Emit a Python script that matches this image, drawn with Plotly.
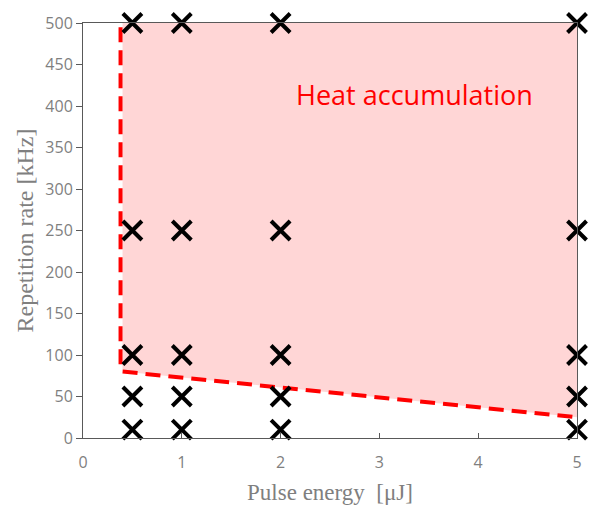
import plotly.graph_objects as go

energies = [0.5, 1, 2, 5]
rates = [10, 50, 100, 250, 500]

region_x = [0.4, 0.4, 5, 5]
region_y = [80, 500, 500, 25]

boundary_x = [0.38, 0.38, 0.4, 5]
boundary_y = [495, 85, 80, 25]

px = [e for e in energies for r in rates]
py = [r for e in energies for r in rates]

fig = go.Figure()
fig.add_trace(go.Scatter(x=region_x + [region_x[0]], y=region_y + [region_y[0]], fill="toself",
                         fillcolor="rgba(255,0,0,0.16)", line=dict(width=0), mode="lines",
                         hoverinfo="skip", showlegend=False))
fig.add_trace(go.Scatter(x=boundary_x, y=boundary_y, mode="lines",
                         line=dict(color="#FF0000", width=4, dash="15px,8px"), showlegend=False))
fig.add_trace(go.Scatter(x=px, y=py, mode="markers", cliponaxis=False,
                         marker=dict(symbol="x-thin-open", size=19, color="black",
                                     line=dict(color="black", width=4)),
                         showlegend=False))

fig.add_annotation(x=3.36, y=414, text="Heat accumulation", showarrow=False,
                   font=dict(family="Open Sans, sans-serif", size=27, color="#FF0000"))

fig.update_layout(
    width=591, height=505, margin=dict(l=83, r=14, t=23, b=67),
    paper_bgcolor="white", plot_bgcolor="white",
    xaxis=dict(range=[0, 5], tickvals=[0, 1, 2, 3, 4, 5], showgrid=False, zeroline=False,
               showline=True, linecolor="#595959", linewidth=1, mirror=True, automargin=False,
               ticks="inside", ticklen=5, tickcolor="#595959", ticklabelstandoff=10,
               tickfont=dict(family="Open Sans, sans-serif", size=16, color="#7f7f7f"),
               title=dict(text="Pulse energy  [μJ]", standoff=12,
                          font=dict(family="Liberation Serif, serif", size=23, color="#7f7f7f"))),
    yaxis=dict(range=[0, 500], tickvals=list(range(0, 501, 50)), showgrid=False, zeroline=False,
               showline=True, linecolor="#595959", linewidth=1, mirror=True, automargin=False,
               ticks="outside", ticklen=6, tickcolor="#595959",
               tickfont=dict(family="Open Sans, sans-serif", size=16, color="#7f7f7f"),
               title=dict(text="Repetition rate [kHz]", standoff=4,
                          font=dict(family="Liberation Serif, serif", size=24, color="#7f7f7f"))),
)

fig.write_html("out.html")
